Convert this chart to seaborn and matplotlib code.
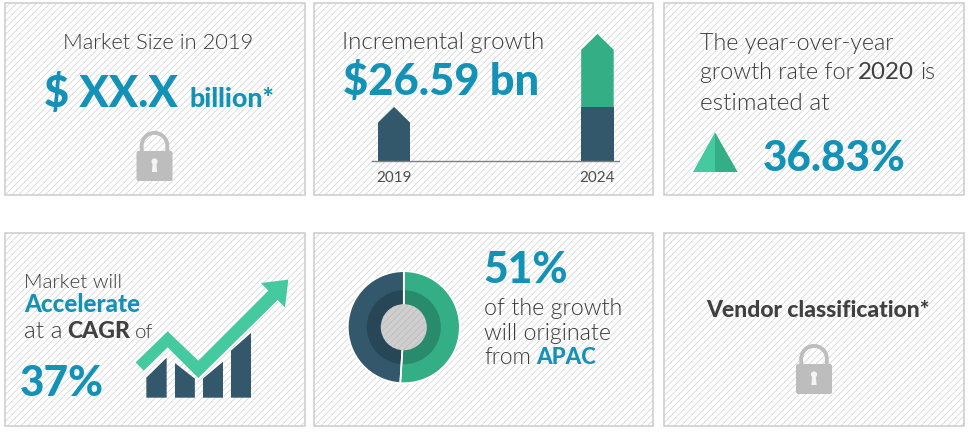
import matplotlib
matplotlib.use("Agg")
import matplotlib.pyplot as plt
import seaborn as sns
from matplotlib.patches import Rectangle, Polygon, Circle, FancyBboxPatch, PathPatch
from matplotlib.path import Path

# ---- data ----
years = ["2019", "2024"]
base_values = [19.7, 19.7]
incremental_values = [0, 26.59]
apac_share = [51, 49]
icon_labels = ["a", "b", "c", "d"]
icon_left = [20, 35, 19, 47]
icon_right = [40, 19, 36, 65]

W, H = 973, 435
DARK, GREEN, MINT, BLUE = "#33586b", "#34ae85", "#45c99e", "#1392b8"
DARK2, GREEN2 = "#274656", "#288b6b"
GREY, BOLDGREY, LOCK, EDGE = "#3a3a3a", "#404040", "#bdbdbd", "#cccccc"
FONT = "Lato"
HEAVY = 900
LIGHT = 300

sns.set_theme(style="white")
plt.rcParams["font.family"] = [FONT, "DejaVu Sans"]
plt.rcParams["hatch.linewidth"] = 0.6
plt.rcParams["hatch.color"] = "#d8d8d8"

fig = plt.figure(figsize=(W / 100, H / 100), dpi=100, facecolor="white")
bg = fig.add_axes([0, 0, 1, 1], zorder=0)
bg.set_xlim(0, W)
bg.set_ylim(H, 0)
bg.axis("off")


def inset(x0, y0, x1, y1, z=1):
    a = fig.add_axes([x0 / W, 1 - y1 / H, (x1 - x0) / W, (y1 - y0) / H], zorder=z)
    a.patch.set_alpha(0)
    return a


# ---- panels ----
for x0, x1 in [(4.5, 305), (313.5, 653), (663.5, 964)]:
    for y0, y1 in [(4, 196), (233.5, 426.5)]:
        bg.add_patch(Rectangle((x0, y0), x1 - x0, y1 - y0, facecolor="white",
                               edgecolor="#d8d8d8", hatch="/////", lw=0, zorder=1))
        bg.add_patch(Rectangle((x0, y0), x1 - x0, y1 - y0, facecolor="none",
                               edgecolor=EDGE, lw=1.1, zorder=2))

renderer = fig.canvas.get_renderer()


def fit(s, x0, x1, base, color=GREY, weight=LIGHT, size=None):
    t = bg.text(x0, base, s, color=color, fontweight=weight, fontsize=10,
                ha="left", va="baseline", zorder=5)
    if size is None:
        w = t.get_window_extent(renderer).width
        t.set_fontsize(10 * (x1 - x0 + 2) / w)
    else:
        t.set_fontsize(size)
    e = t.get_window_extent(renderer)
    t.set_x(x0 - (e.x0 - x0) - 0.8)
    return t


# ---- text ----
fit("Market Size in 2019", 64, 253, 49)
fit("$ XX.X", 45, 176, 107.5, BLUE, HEAVY)
fit("billion*", 190, 273, 107, BLUE, HEAVY)
fit("Incremental growth", 343, 543, 49.3)
fit("$26.59 bn", 344, 537, 95, BLUE, HEAVY)
rate_size = fit("The year-over-year", 700.7, 891.7, 50).get_fontsize()
fit("growth rate for", 700.7, 852, 79)
fit("2020", 859, 913, 79, BOLDGREY, "normal")
fit("is", 921, 932.7, 79, size=rate_size)
fit("estimated at", 700.7, 829, 110)
fit("36.83%", 764, 905, 170.7, BLUE, HEAVY)
will_size = fit("Market will", 25.3, 121.7, 288.3).get_fontsize()
fit("Accelerate", 25.3, 139, 312.3, BLUE, HEAVY)
fit("at a", 25.3, 61.7, 337.7)
fit("CAGR", 68.3, 129, 337.7, BOLDGREY, HEAVY)
fit("of", 136, 153.3, 337.7, size=will_size)
fit("37%", 20.7, 102.7, 395.7, BLUE, HEAVY)
fit("51%", 484, 566.7, 283.3, BLUE, HEAVY)
fit("of the growth", 485, 621, 315)
fit("will originate", 485, 610, 340)
fit("from", 485, 530, 364.3)
fit("APAC", 537.3, 595, 364.3, BLUE, HEAVY)
fit("Vendor classification*", 707, 929, 317.5, BOLDGREY, HEAVY)


# ---- locks ----
def lock(cx, top):
    body_top = top + 20
    bottom = top + 50
    bg.add_patch(FancyBboxPatch((cx - 18, body_top), 36, bottom - body_top,
                                boxstyle="round,pad=0,rounding_size=2", mutation_aspect=1,
                                facecolor=LOCK, edgecolor="none", zorder=4))
    r = 12.8
    cy = top + r + 1.9
    k = 0.5523 * r
    verts = [(cx - r, body_top + 2), (cx - r, cy),
             (cx - r, cy - k), (cx - k, cy - r), (cx, cy - r),
             (cx + k, cy - r), (cx + r, cy - k), (cx + r, cy),
             (cx + r, body_top + 2)]
    codes = [Path.MOVETO, Path.LINETO] + [Path.CURVE4] * 6 + [Path.LINETO]
    bg.add_patch(PathPatch(Path(verts, codes), facecolor="none", edgecolor=LOCK, lw=2.8,
                           capstyle="butt", zorder=4))
    bg.add_patch(Circle((cx, top + 30.5), 3.1, facecolor="#f4f4f4", edgecolor="none", zorder=5))
    bg.add_patch(Polygon([(cx - 1.8, top + 30.5), (cx + 1.8, top + 30.5), (cx + 2.6, top + 41), (cx - 2.6, top + 41)],
                         facecolor="#f4f4f4", edgecolor="none", zorder=5))


lock(154.5, 132)
lock(814, 345)

# ---- triangle icon ----
bg.add_patch(Polygon([(693, 173), (715, 133.3), (715, 173)], facecolor=MINT, edgecolor="none", zorder=4))
bg.add_patch(Polygon([(715, 133.3), (737.7, 173), (715, 173)], facecolor=GREEN, edgecolor="none", zorder=4))

# ---- growth arrow ----
pts = [(407, 415), (503, 322), (595, 410), (805, 200), (783, 177), (865, 167),
       (855, 250), (833, 228), (595, 462), (503, 370), (431, 440)]
bg.add_patch(Polygon([(x / 3, 225 + y / 3) for x, y in pts], facecolor=MINT, edgecolor="none", zorder=4))

# ---- incremental growth bars ----
ax = inset(371.7, 20, 619, 162.3)
totals = [b + i for b, i in zip(base_values, incremental_values)]
sns.barplot(x=years, y=totals, color=GREEN, saturation=1, width=0.16, linewidth=0, edgecolor="none", ax=ax)
sns.barplot(x=years, y=base_values, color=DARK, saturation=1, width=0.16, linewidth=0, edgecolor="none", ax=ax)
ax.set_xlim(-0.11, 1.106)
ax.set_ylim(0, 51.7)


def house(p, tip=5.8):
    x, w, h = p.get_x(), p.get_width(), p.get_height()
    p.set_clip_path(Polygon([(x, 0), (x, h - tip), (x + w / 2, h), (x + w, h - tip), (x + w, 0)],
                            transform=ax.transData))


green_bars, dark_bars = ax.containers[0], ax.containers[1]
house(green_bars[0])
house(green_bars[1])
house(dark_bars[0])
for s in ["top", "left", "right"]:
    ax.spines[s].set_visible(False)
ax.spines["bottom"].set_color("#808080")
ax.spines["bottom"].set_linewidth(1.0)
ax.set_yticks([])
ax.set_xlabel("")
ax.set_ylabel("")
ax.tick_params(axis="x", length=0, pad=6.5, labelsize=11, labelcolor="#4d4d4d")

# ---- donut ----
dx, dy, R = 403.8, 328.2, 60
ax2 = inset(dx - R, dy - R, dx + R, dy + R)
flat = dict(edgecolor="none", linewidth=0)
ax2.pie(apac_share, radius=56, startangle=90, counterclock=False, colors=[GREEN, DARK], wedgeprops=flat)
ax2.pie(apac_share, radius=37, startangle=90, counterclock=False, colors=[GREEN2, DARK2], wedgeprops=flat)
for wedge in ax2.pie(apac_share, radius=56, startangle=90, counterclock=False, colors=["none", "none"],
                     wedgeprops=dict(edgecolor="white", linewidth=1.2))[0]:
    wedge.set_capstyle("butt")
ax2.add_patch(Circle((0, 0), 23, facecolor="#cfcfcf", edgecolor="#bcbcbc", hatch="/////", lw=0, zorder=10))
ax2.set_xlim(-R, R)
ax2.set_ylim(-R, R)

# ---- CAGR bar icon ----
ax3 = inset(140, 320, 256, 398.7)
heights = [max(a, b) for a, b in zip(icon_left, icon_right)]
sns.barplot(x=icon_labels, y=heights, color=DARK, saturation=1, width=0.72, linewidth=0, edgecolor="none", ax=ax3)
ax3.set_xlim(-0.585, 3.528)
ax3.set_ylim(0, 78.7)
ax3.axis("off")
for p, a, b in zip(ax3.containers[0], icon_left, icon_right):
    x, w = p.get_x(), p.get_width()
    p.set_clip_path(Polygon([(x, 0), (x, a), (x + w, b), (x + w, 0)], transform=ax3.transData))

fig.savefig("out.png", dpi=100, facecolor="white")
